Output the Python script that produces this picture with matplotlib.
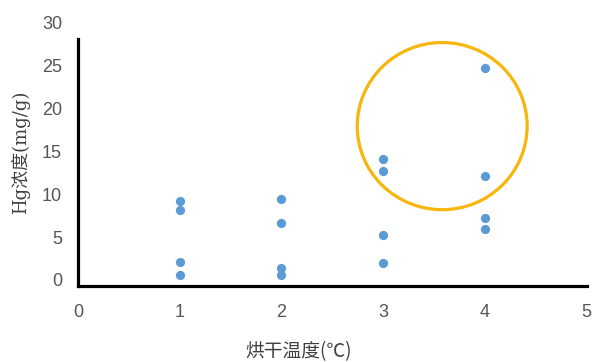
import matplotlib.pyplot as plt
from matplotlib.patches import Ellipse

# drying temperature level vs Hg concentration
temp = [1, 1, 1, 1, 2, 2, 2, 2, 3, 3, 3, 3, 4, 4, 4, 4]
hg = [9.25, 8.15, 2.15, 0.6, 9.45, 6.65, 1.45, 0.6, 14.15, 12.7, 5.2, 1.95, 24.7, 12.1, 7.25, 5.9]

xticks = [0, 1, 2, 3, 4, 5]
yticks = [0, 5, 10, 15, 20, 25, 30]

fig = plt.figure(figsize=(5.95, 3.62), dpi=100)
ax = fig.add_axes([0.131, 0.21, 0.855, 0.727])

ax.scatter(temp, hg, s=44, color="#5B9BD5", zorder=3, linewidths=0)

# highlight ring around the high readings
ring = Ellipse((3.58, 17.95), 1.67, 19.5, fill=False, edgecolor="#F8B50C", lw=2.3)
ax.add_patch(ring)

ax.set_xlim(0, 5)
ax.set_ylim(-0.7, 30)
ax.set_xticks(xticks)
ax.set_yticks(yticks)
ax.tick_params(length=0, labelsize=13, labelcolor="#555555")
ax.tick_params(axis="x", pad=13)
ax.tick_params(axis="y", pad=11.5)
for lab in ax.get_xticklabels() + ax.get_yticklabels():
    lab.set_family("Liberation Sans")

for s in ["top", "right"]:
    ax.spines[s].set_visible(False)
for s in ["left", "bottom"]:
    ax.spines[s].set_linewidth(2.3)
    ax.spines[s].set_color("black")
ax.spines["left"].set_bounds(-0.7, 28.1)

fig.text(0.034, 0.58, "Hg浓度(mg/g)", rotation=90, ha="center", va="center",
         fontsize=13, color="#404040", fontweight="light",
         family=["DejaVu Serif", "Noto Sans CJK SC"])
fig.text(0.502, 0.028, "烘干温度(℃)", ha="center", va="center",
         fontsize=13.5, color="#404040", fontweight="light",
         family=["Noto Sans CJK SC", "DejaVu Sans"])

fig.savefig("out.png", dpi=100)
